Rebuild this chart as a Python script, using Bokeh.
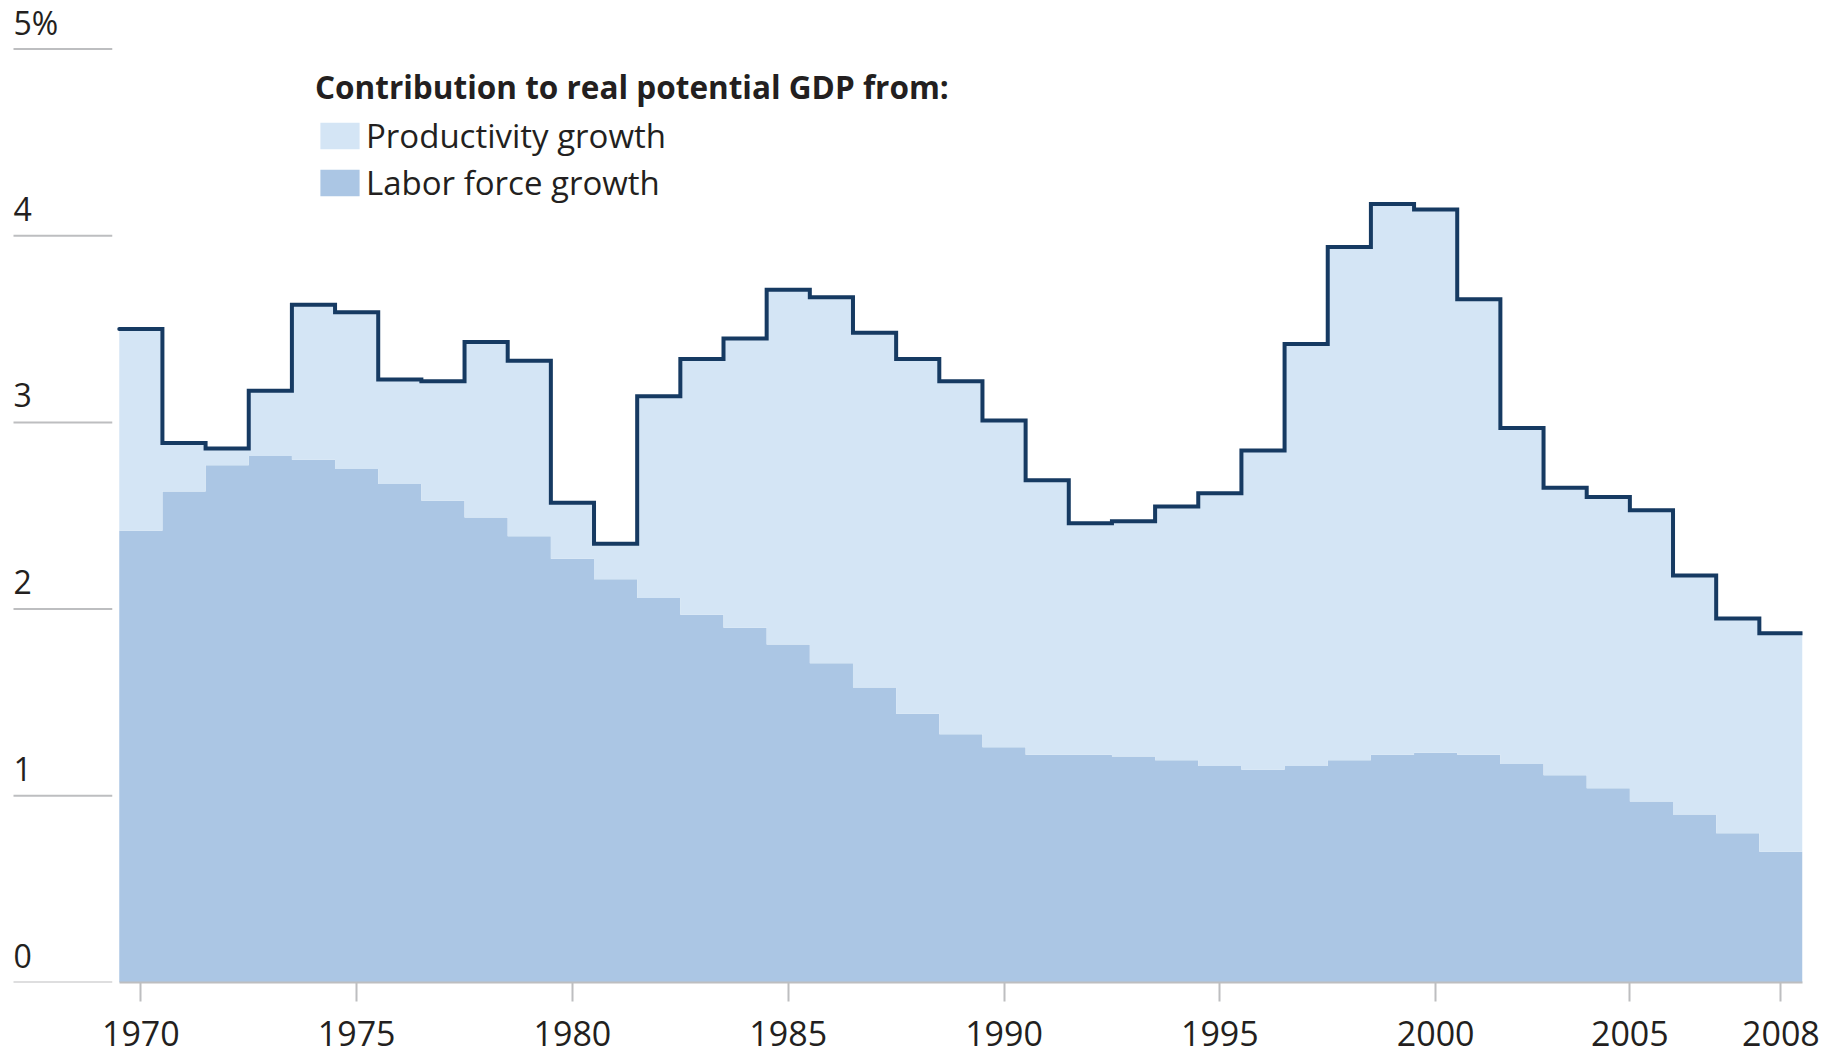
from bokeh.plotting import figure
from bokeh.models import (Range1d, FixedTicker, ColumnDataSource,
                          Legend, LegendItem)
from bokeh.core.properties import value
from bokeh.embed import file_html
from bokeh.resources import INLINE

# ---------------- data ----------------
years = list(range(1970, 2009))
total_growth = [3.50, 2.89, 2.86, 3.17, 3.63, 3.59, 3.23, 3.22, 3.43, 3.33,
                2.57, 2.35, 3.14, 3.34, 3.45, 3.71, 3.67, 3.48, 3.34, 3.22,
                3.01, 2.69, 2.46, 2.47, 2.55, 2.62, 2.85, 3.42, 3.94, 4.17,
                4.14, 3.66, 2.97, 2.65, 2.60, 2.53, 2.18, 1.95, 1.87]
labor_growth = [2.42, 2.63, 2.77, 2.82, 2.80, 2.75, 2.67, 2.58, 2.49, 2.39,
                2.27, 2.16, 2.06, 1.97, 1.90, 1.81, 1.71, 1.58, 1.44, 1.33,
                1.26, 1.22, 1.22, 1.21, 1.19, 1.16, 1.14, 1.16, 1.19, 1.22,
                1.23, 1.22, 1.17, 1.11, 1.04, 0.97, 0.90, 0.80, 0.70]
x_tick_years = [1970, 1975, 1980, 1985, 1990, 1995, 2000, 2005, 2008]
x_tick_labels = ["1970", "1975", "1980", "1985", "1990", "1995", "2000", "2005", "2008"]
y_ticks = [0, 1, 2, 3, 4, 5]
y_tick_labels = ["0", "1", "2", "3", "4", "5%"]
series_names = ["Productivity growth", "Labor force growth"]
legend_title = "Contribution to real potential GDP from:"

# ---------------- styles / layout ----------------
LIGHT = "#d4e5f5"
DARK = "#abc6e4"
LINE = "#163a62"
GRAY = "#bdbec0"
TEXT = "#231f20"
FONT = "Open Sans"

PPY = 43.16          # pixels per year
UPP = 186.7          # pixels per percentage point
FRAME_W = 1802
FRAME_H = 982
x_end = years[-1] + 0.5
x_start = x_end - FRAME_W / PPY
first_edge = years[0] - 0.5

# staircase coordinates built from the yearly data
xs, tot_s, lab_s = [], [], []
for yr, t, l in zip(years, total_growth, labor_growth):
    xs += [yr - 0.5, yr + 0.5]
    tot_s += [t, t]
    lab_s += [l, l]
src = ColumnDataSource(dict(x=xs, total=tot_s, labor=lab_s, zero=[0] * len(xs)))

p = figure(frame_width=FRAME_W, frame_height=FRAME_H,
           min_border_left=0, min_border_right=1839 - FRAME_W, min_border_top=0,
           min_border_bottom=1056 - FRAME_H,
           x_range=Range1d(x_start, x_end),
           y_range=Range1d(0, FRAME_H / UPP),
           output_backend="svg", toolbar_location=None,
           background_fill_color="white", border_fill_color="white")
p.outline_line_color = None
p.grid.visible = False
p.yaxis.visible = False

r_lab = p.varea(x="x", y1="zero", y2="labor", source=src, fill_color=DARK)
r_prod = p.varea(x="x", y1="labor", y2="total", source=src, fill_color=LIGHT)
p.line(x="x", y="total", source=src, line_color=LINE, line_width=4,
       line_join="miter", line_cap="round")

# y "axis": short gray rules in the left margin with labels above them
LABEL_RAISE = 27 / UPP
ysrc = ColumnDataSource(dict(
    y=y_ticks, text=y_tick_labels,
    ylab=[t + LABEL_RAISE for t in y_ticks],
    x0=[x_start + 13 / PPY] * len(y_ticks),
    x1=[first_edge - 7 / PPY] * len(y_ticks)))
p.segment(x0="x0", x1="x1", y0="y", y1="y", source=ysrc,
          line_color=GRAY, line_width=2)
p.text(x="x0", y="ylab", text="text", source=ysrc,
       text_font=value(FONT), text_font_size="32px", text_color=TEXT,
       text_baseline="alphabetic", text_align="left")

# x axis
tick_pos = [yr - 0.5 if yr == 2005 else yr for yr in x_tick_years]
xa = p.xaxis[0]
xa.bounds = (first_edge, x_end)
xa.ticker = FixedTicker(ticks=tick_pos)
xa.major_label_overrides = {tp: lab for tp, lab in zip(tick_pos, x_tick_labels)}
xa.axis_line_color = GRAY
xa.axis_line_width = 2
xa.major_tick_line_color = GRAY
xa.major_tick_line_width = 2
xa.major_tick_in = 0
xa.major_tick_out = 19
xa.minor_tick_line_color = None
xa.major_label_text_font = FONT
xa.major_label_text_font_size = "34px"
xa.major_label_text_color = TEXT
xa.major_label_standoff = 19

legend = Legend(items=[LegendItem(label=series_names[0], renderers=[r_prod]),
                       LegendItem(label=series_names[1], renderers=[r_lab])],
                title=legend_title, location=(315, 777),
                title_text_font=FONT, title_text_font_style="bold",
                title_text_font_size="31.5px", title_text_color=TEXT,
                title_standoff=5,
                label_text_font=FONT, label_text_font_size="33px",
                label_text_color=TEXT,
                glyph_width=49, glyph_height=33, label_height=26,
                label_standoff=2, spacing=2, padding=0, margin=0,
                border_line_color=None, background_fill_alpha=0)
p.add_layout(legend)

open("out.html", "w").write(file_html(p, INLINE))
